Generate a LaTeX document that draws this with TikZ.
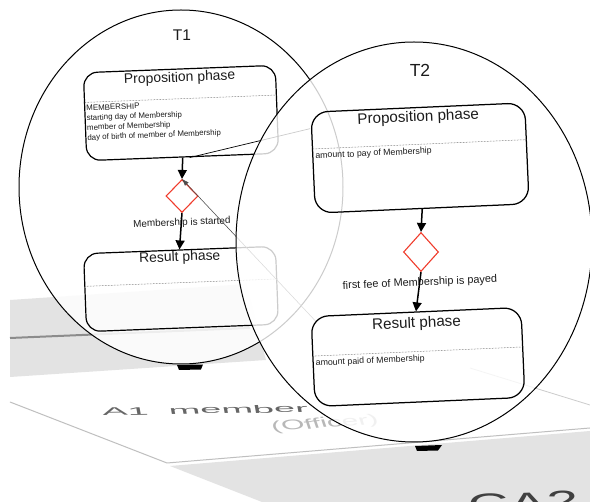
\documentclass[tikz,border=0pt]{standalone}
\usepackage{fontspec}
\setmainfont{Liberation Sans}
\usetikzlibrary{shapes.geometric,arrows.meta,calc}
\pgfdeclarelayer{planes}
\pgfdeclarelayer{lowerlens}
\pgfdeclarelayer{upperlens}
\pgfsetlayers{planes,lowerlens,upperlens,main}
\definecolor{condred}{HTML}{F03C2C}
\definecolor{planegray}{HTML}{E3E3E3}
\definecolor{ink}{HTML}{1C1C1C}
\tikzset{
  lens/.style={ellipse, draw=black, line width=1pt, fill=white, inner sep=0pt, outer sep=0pt},
  phaseone/.style={rectangle, draw=black, line width=1.2pt, rounded corners=14pt, inner sep=0pt, rotate=2.2},
  phasetwo/.style={rectangle, draw=black, line width=1.25pt, rounded corners=17pt, inner sep=0pt, rotate=2.5},
  cond/.style={diamond, draw=condred, line width=1.1pt, inner sep=0pt},
  flow/.style={line width=1.5pt, -{Triangle[length=9pt,width=9pt]}},
  sepline/.style={densely dotted, line width=0.5pt, draw=black!75},
  lenslabel/.style={text=ink, inner sep=0pt},
  titleone/.style={font=\fontsize{13.9}{16}\selectfont, text=ink, inner sep=0pt, rotate=2.2},
  titletwo/.style={font=\fontsize{15.2}{18}\selectfont, text=ink, inner sep=0pt, rotate=2.5},
  attrone/.style={font=\fontsize{7.9}{9.8}\selectfont, text=ink, inner sep=0pt, align=left, anchor=north west, rotate=2.2},
  attrtwo/.style={font=\fontsize{8.8}{10.5}\selectfont, text=ink, inner sep=0pt, align=left, anchor=north west, rotate=2.5},
  condlabelone/.style={font=\fontsize{9.9}{12}\selectfont, text=ink, inner sep=0pt, rotate=2.2},
  condlabeltwo/.style={font=\fontsize{10.9}{13}\selectfont, text=ink, inner sep=0pt, rotate=2.5},
  zoomline/.style={line width=0.7pt, draw=black},
  traceline/.style={line width=0.55pt, draw=black!70, -{Latex[length=7pt,width=5pt]}},
  marker/.style={fill=black},
}
\begin{document}
\begin{tikzpicture}[x=1pt,y=-1pt]
\useasboundingbox (0,0) rectangle (590,502);

% ---------- background planes ----------
\begin{pgfonlayer}{planes}
  \fill[white] (0,0) rectangle (590,502);
  \fill[planegray] (10,300) -- (246,284) -- (266,360) -- (10,377) -- cycle;
  \draw[line width=2pt, black!45] (10,338) -- (250,328);
  \draw[black!25, line width=1pt] (10,402) -- (167,463) -- (590,428);
  \fill[planegray] (170,466) -- (590,431) -- (590,502) -- (262,502) -- cycle;
  \draw[black!20, line width=0.8pt] (470,368) -- (590,405);
  \node[font=\fontsize{20}{20}\selectfont, text=black!60, inner sep=0pt, xscale=1.9, yscale=0.55, rotate=3] (aonetext) at (205,410) {A1\hspace{0.25em} member};
  \node[font=\fontsize{20}{20}\selectfont, text=black!28, inner sep=0pt, xscale=1.5, yscale=0.7, rotate=9] (officertext) at (325,424) {(Officer)};
  \node[font=\fontsize{30}{30}\selectfont, text=black!75, inner sep=0pt, anchor=north west, xscale=1.9, rotate=4] (catwotext) at (466,494) {CA2 b};
\end{pgfonlayer}

% ---------- T2 lens ----------
\begin{pgfonlayer}{upperlens}
  \node[lens, fill opacity=0.8, minimum width=356, minimum height=400] (lenstwo) at (414,242) {};
\end{pgfonlayer}

% ---------- T2 content ----------
\node[lenslabel, font=\fontsize{17.5}{20}\selectfont] (ttwo) at (420,70) {T2};
\node[phasetwo, minimum width=214, minimum height=101] (proptwo) at (420,158) {};
\node[titletwo] (proptwotitle) at ($(proptwo.north)!0.105!(proptwo.south)$) {Proposition phase};
\draw[sepline] ($(proptwo.north west)!0.366!(proptwo.south west)$) -- ($(proptwo.north east)!0.366!(proptwo.south east)$);
\node[attrtwo] (proptwoattr) at ($(proptwo.north west)!0.395!(proptwo.south west)+(3,0)$) {amount to pay of Membership};
\node[cond, minimum width=35, minimum height=39] (condtwo) at (421,252) {};
\node[condlabeltwo] (condtwolabel) at (420,283) {first fee of Membership is payed};
\node[phasetwo, minimum width=210, minimum height=90] (restwo) at (418,357) {};
\node[titletwo] (restwotitle) at ($(restwo.north)!0.135!(restwo.south)$) {Result phase};
\draw[sepline] ($(restwo.north west)!0.44!(restwo.south west)$) -- ($(restwo.north east)!0.44!(restwo.south east)$);
\node[attrtwo] (restwoattr) at ($(restwo.north west)!0.475!(restwo.south west)+(3,0)$) {amount paid of Membership};
\draw[flow] (proptwo.south) -- (condtwo.north);
\draw[flow] (condtwo.south) -- (restwo.north);

% ---------- T1 lens and content ----------
\begin{pgfonlayer}{lowerlens}
  \node[lens, fill opacity=0.85, minimum width=324, minimum height=354] (lensone) at (181,187) {};
  \node[lenslabel, font=\fontsize{15.5}{18}\selectfont] (tone) at (182,35) {T1};
  \node[phaseone, minimum width=192, minimum height=88] (propone) at (181,113) {};
  \node[titleone] (proponetitle) at ($(propone.north)!0.11!(propone.south)$) {Proposition phase};
  \draw[sepline] ($(propone.north west)!0.34!(propone.south west)$) -- ($(propone.north east)!0.34!(propone.south east)$);
  \node[attrone] (proponeattr) at ($(propone.north west)!0.37!(propone.south west)+(2,0)$) {MEMBERSHIP\\starting day of Membership\\member of Membership\\day of birth of member of Membership};
  \node[cond, minimum width=32, minimum height=33] (condone) at (182,196) {};
  \node[condlabelone] (condonelabel) at (182,223) {Membership is started};
  \node[phaseone, minimum width=192, minimum height=78] (resone) at (181,289) {};
  \node[titleone] (resonetitle) at ($(resone.north)!0.105!(resone.south)$) {Result phase};
  \draw[sepline] ($(resone.north west)!0.42!(resone.south west)$) -- ($(resone.north east)!0.42!(resone.south east)$);
  \draw[flow] (propone.south) -- (condone.north);
  \draw[flow] (condone.south) -- (resone.north);
  \draw[zoomline] ([xshift=7pt]propone.south) -- ([yshift=-17pt]proptwo.north west);
  \draw[traceline] ([xshift=5pt,yshift=-5pt]restwo.north west) -- (condone.north);
\end{pgfonlayer}

% ---------- lens markers ----------
\fill[marker] (177,365) -- (203,364.5) -- (201,369.5) -- (179,370) -- cycle;
\fill[marker] (415,446) -- (442,445) -- (438,450.5) -- (417,451) -- cycle;
\end{tikzpicture}
\end{document}
